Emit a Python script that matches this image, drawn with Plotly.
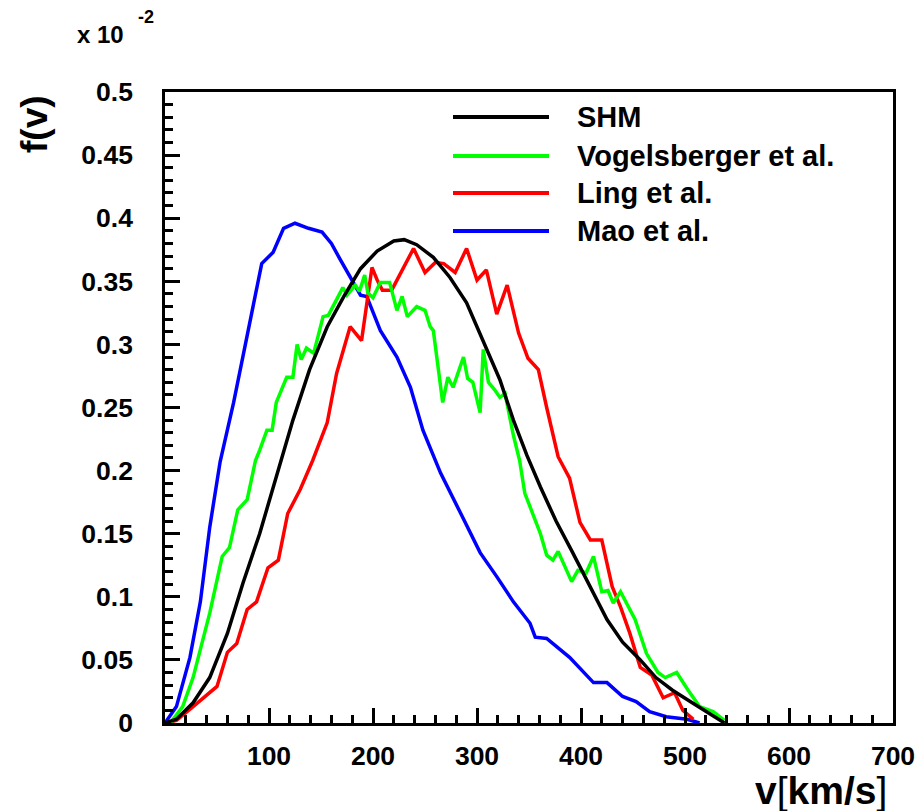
import plotly.graph_objects as go

# Speed distributions f(v) in units of 1e-2 (km/s)^-1
shm_v = [0, 11, 27, 43, 60, 75, 91, 108, 123, 139, 156, 172, 188, 204, 220, 230,
         242, 258, 274, 290, 306, 322, 335, 348, 361, 376, 392, 409, 425, 440,
         457, 472, 488, 505, 521, 538]
shm_f = [0, 0.003, 0.016, 0.036, 0.071, 0.111, 0.150, 0.198, 0.240, 0.280,
         0.314, 0.338, 0.360, 0.374, 0.382, 0.383, 0.379, 0.369, 0.353, 0.333,
         0.303, 0.272, 0.240, 0.212, 0.187, 0.160, 0.135, 0.108, 0.082, 0.064,
         0.050, 0.036, 0.026, 0.017, 0.009, 0]

vog_v = [5, 17, 27, 43, 55, 62, 70, 79, 87, 91, 98, 103, 107, 117, 123, 127, 131,
         136, 143, 152, 157, 162, 171, 175, 183, 187, 192, 195, 200, 207, 216,
         223, 228, 233, 242, 250, 255, 258, 267, 272, 277, 287, 291, 296, 303,
         306, 311, 317, 322, 327, 335, 341, 346, 354, 361, 367, 373, 378, 391,
         397, 405, 412, 420, 426, 431, 438, 452, 463, 474, 481, 492, 503, 514,
         527, 538]
vog_f = [0, 0.013, 0.036, 0.087, 0.132, 0.139, 0.169, 0.177, 0.208, 0.216, 0.232,
         0.232, 0.254, 0.274, 0.274, 0.300, 0.288, 0.297, 0.293, 0.322, 0.323,
         0.331, 0.345, 0.339, 0.347, 0.342, 0.355, 0.341, 0.337, 0.349, 0.349,
         0.327, 0.338, 0.322, 0.330, 0.327, 0.314, 0.311, 0.254, 0.274, 0.266,
         0.290, 0.273, 0.270, 0.246, 0.296, 0.270, 0.264, 0.258, 0.261, 0.228,
         0.208, 0.182, 0.165, 0.150, 0.133, 0.129, 0.136, 0.112, 0.121, 0.119,
         0.132, 0.104, 0.105, 0.095, 0.104, 0.082, 0.055, 0.040, 0.036, 0.040,
         0.026, 0.013, 0.009, 0.002]

ling_v = [0, 11, 27, 40, 50, 60, 69, 79, 88, 99, 109, 118, 130, 142, 156, 165,
          178, 189, 199, 204, 209, 218, 239, 250, 260, 268, 279, 290, 300, 309,
          319, 329, 340, 349, 359, 367, 378, 389, 399, 409, 420, 430, 438, 447,
          457, 468, 479, 490, 498, 508]
ling_f = [0, 0.002, 0.013, 0.022, 0.029, 0.056, 0.063, 0.090, 0.096, 0.123,
          0.129, 0.166, 0.185, 0.208, 0.238, 0.277, 0.314, 0.303, 0.361, 0.351,
          0.343, 0.343, 0.376, 0.357, 0.365, 0.364, 0.357, 0.376, 0.351, 0.359,
          0.324, 0.347, 0.309, 0.289, 0.280, 0.250, 0.211, 0.194, 0.159, 0.145,
          0.145, 0.108, 0.092, 0.071, 0.044, 0.038, 0.020, 0.024, 0.010, 0.003]

mao_v = [0, 11, 24, 34, 43, 53, 66, 79, 88, 93, 104, 114, 125, 138, 151, 160,
         168, 178, 188, 194, 207, 223, 236, 248, 265, 285, 303, 319, 335, 351,
         356, 367, 389, 412, 425, 440, 453, 466, 482, 502, 514]
mao_f = [0, 0.013, 0.052, 0.096, 0.155, 0.207, 0.254, 0.306, 0.343, 0.364,
         0.373, 0.392, 0.396, 0.392, 0.389, 0.380, 0.368, 0.354, 0.339, 0.338,
         0.311, 0.290, 0.266, 0.232, 0.198, 0.165, 0.135, 0.116, 0.096, 0.079,
         0.068, 0.067, 0.052, 0.032, 0.032, 0.021, 0.017, 0.009, 0.005, 0.003, 0]

names = ["SHM", "Vogelsberger et al.", "Ling et al.", "Mao et al."]
colors = ["#000000", "#00ff00", "#ff0000", "#0000ff"]
series = [(shm_v, shm_f), (vog_v, vog_f), (ling_v, ling_f), (mao_v, mao_f)]
x_ticks = [100, 200, 300, 400, 500, 600, 700]

FONT = "Liberation Sans"
W, H = 917, 811
L, R, T, B = 165, 24, 92, 88
PW, PH = W - L - R, H - T - B


def px(x):
    return (x - L) / PW


def py(y):
    return (H - B - y) / PH


fig = go.Figure()
# draw in reverse so SHM sits on top
for (v, f), name, col in reversed(list(zip(series, names, colors))):
    fig.add_trace(go.Scatter(x=v, y=f, mode="lines", name=name,
                             line=dict(color=col, width=3.5), showlegend=False))

axis_common = dict(
    showline=True, linecolor="black", linewidth=2.5, mirror=True,
    ticks="inside", ticklen=15, tickwidth=2.5, tickcolor="black",
    showgrid=False, zeroline=False, automargin=False,
    tickfont=dict(family=FONT, size=26.5, color="black", weight="bold"),
)

fig.update_xaxes(range=[0, 700], tickmode="array", tickvals=x_ticks,
                 ticktext=[str(t) for t in x_ticks], ticklabelstandoff=7,
                 minor=dict(dtick=20, tick0=0, ticks="inside", ticklen=8,
                            tickwidth=2.5, tickcolor="black"),
                 **axis_common)
fig.update_yaxes(range=[0, 0.5], tick0=0, dtick=0.05, ticklabelstandoff=24,
                 minor=dict(dtick=0.01, tick0=0, ticks="inside", ticklen=8,
                            tickwidth=2.5, tickcolor="black"),
                 **axis_common)

shapes = []
annotations = []
legend_rows = [117, 156, 193, 231]
for name, col, yr in zip(names, colors, legend_rows):
    shapes.append(dict(type="line", xref="paper", yref="paper",
                       x0=px(453), x1=px(549), y0=py(yr), y1=py(yr),
                       line=dict(color=col, width=4)))
    annotations.append(dict(text=name, xref="paper", yref="paper",
                            x=px(575), y=py(yr), xanchor="left", yanchor="middle",
                            showarrow=False,
                            font=dict(family=FONT, size=29, color="black",
                                      weight="bold")))

annotations += [
    dict(text="f(v)", xref="paper", yref="paper", x=px(34), y=py(124),
         xanchor="center", yanchor="middle", textangle=-90, showarrow=False,
         font=dict(family=FONT, size=37, color="black", weight="bold")),
    dict(text="v<span style='font-weight:normal'>[</span>km/s"
              "<span style='font-weight:normal'>]</span>",
         xref="paper", yref="paper", x=px(889), y=py(790),
         xanchor="right", yanchor="middle", showarrow=False,
         font=dict(family=FONT, size=39, color="black", weight="bold")),
    dict(text="x 10", xref="paper", yref="paper", x=px(100), y=py(35),
         xanchor="center", yanchor="middle", showarrow=False,
         font=dict(family=FONT, size=24, color="black", weight="bold")),
    dict(text="-2", xref="paper", yref="paper", x=px(146), y=py(17),
         xanchor="center", yanchor="middle", showarrow=False,
         font=dict(family=FONT, size=18, color="black", weight="bold")),
]

fig.update_layout(
    width=W, height=H,
    margin=dict(l=L, r=R, t=T, b=B, autoexpand=False),
    paper_bgcolor="white", plot_bgcolor="white",
    font=dict(family=FONT, color="black"),
    shapes=shapes, annotations=annotations,
    showlegend=False,
)

fig.write_html("out.html")
